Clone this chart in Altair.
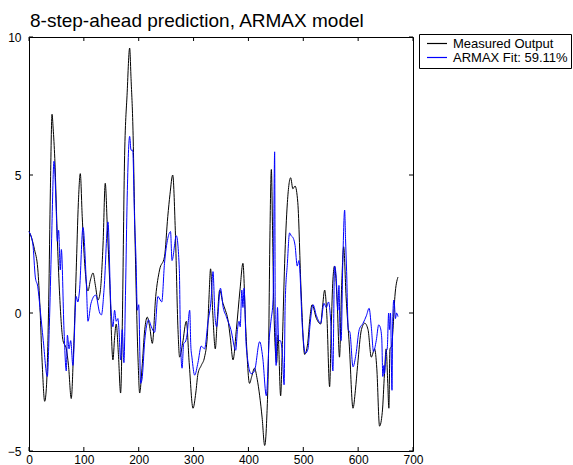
import altair as alt
import pandas as pd

# Measured output (black)
meas_x = [0, 5, 10, 16, 20, 24, 28.6, 32, 36, 39, 42, 44, 47, 52, 56, 62, 68, 72, 77, 81,
          86, 90, 93.5, 97, 101.5, 107.5, 112, 116.7, 121, 125.8, 130, 135, 139, 143, 147,
          153, 156, 159, 163, 167, 170, 174, 179, 183.5, 186, 189.6, 193, 195.6, 199, 201.7,
          206, 211, 215.6, 220, 224.8, 231, 238, 247, 253, 257, 262, 266.7, 271.6, 274.6,
          280, 286.8, 292, 299, 304, 308, 314, 320, 325, 328, 331, 335, 339.6, 343, 347.6,
          353.6, 358, 362.7, 367, 371.9, 378, 384.6, 390, 395, 402, 406, 411, 416, 420.5,
          425, 429.6, 433, 437, 439, 441.8, 444, 446, 451.5, 454, 458.7, 462, 466, 471, 477,
          481, 485, 490, 496, 502.5, 508, 512, 516, 524, 531.7, 535, 539, 543, 548, 551, 554,
          557, 562, 566, 570, 573.6, 578, 584, 590.6, 595, 599, 606, 612, 618, 624, 630, 634,
          639, 644, 648, 651, 654, 656, 658, 661, 663.5, 667, 672.6]
meas_y = [2.95, 2.7, 2.3, 1.6, 0.2, -1.8, -3.2, -2.6, 0.5, 4.5, 7.2, 6.7, 5.6, 2.5, 0.6, -1.0,
          -1.3, -1.9, -3.1, -1.5, 1.5, 4.0, 5.05, 3.5, 1.8, 0.8, 1.2, 1.45, 1.0, 0.47, 0.8, 2.5,
          4.7, 3.0, 1.2, -1.7, -0.9, -0.4, -1.5, -2.9, -0.5, 5.4, 8.0, 9.6, 8.5, 6.6, 3.0, 0.6,
          -1.8, -2.9, -2.0, -0.6, -0.15, -0.5, -1.1, 0.6, 1.56, 2.04, 3.5, 4.3, 5.0, 3.0, -0.6,
          -1.6, -1.1, -0.3, -1.8, -3.45, -2.9, -2.2, -1.9, -1.6, -0.85, 0.5, 1.6, 0.0, -1.3,
          -0.3, 0.83, 0.35, 0.1, -0.25, -0.9, -1.7, -0.6, 0.83, 1.8, -0.5, -2.55, -2.3, -2.0,
          -2.4, -3.0, -3.8, -4.8, -4.0, -1.0, 2.5, 5.2, 3.0, 0.5, -1.8, -0.8, -3.0, -1.0, 1.8,
          4.0, 4.9, 4.5, 4.6, 4.0, 0.8, -1.5, -1.1, -0.2, 0.3, -0.2, -0.4, 0.2, 0.83, -0.1,
          -2.67, -0.5, 1.2, 1.7, 0.3, -1.6, 1.0, 2.4, 0.6, -1.2, -3.45, -2.8, -1.9, -0.6, -0.37,
          -0.6, -1.6, -1.3, -2.0, -4.1, -3.6, -2.2, -1.3, -2.55, -3.45, -1.3, -1.2, -0.6, 0.6,
          1.3]

# 8-step-ahead ARMAX prediction (blue)
fit_x = [0, 7, 11.5, 16, 20, 26, 33.4, 37, 41, 45.6, 50, 51.6, 54, 57, 59, 63.8, 68, 70, 73,
         76, 80, 86, 89, 92, 98.4, 104.5, 107.5, 113, 121.5, 129, 132, 137, 144, 149, 153,
         156, 159, 162, 164, 167, 170, 173, 176, 179, 183.5, 186, 189, 192.6, 195, 197.5, 200,
         203.5, 206, 211, 218, 223, 229, 235, 242, 247, 253, 258, 260.7, 268.6, 274, 276, 279,
         282, 285, 288, 293, 295, 297, 302, 308, 314, 320, 326, 332, 335.4, 339, 342, 349,
         354, 359.7, 368, 376.8, 380, 383, 385, 388, 390, 392, 396, 405, 411, 420.5, 426,
         432.6, 438, 441, 445, 447.8, 449, 450.5, 453, 455, 458, 462, 465, 467, 471, 475, 478,
         482, 485, 489, 492, 498.6, 503.7, 508.6, 512, 517.7, 524, 531.7, 537.7, 542, 546,
         550, 554, 557, 560, 563, 565, 567, 569, 572, 575.4, 577, 579, 582, 585, 590.6, 596,
         602, 609, 615, 620, 624, 628, 633, 637.5, 640, 643, 645, 647, 648, 651, 653, 655.6,
         657, 659, 661.7, 663, 665, 666, 668, 670, 672.6]
fit_y = [2.95, 2.5, 1.3, 0.95, 0.2, -1.0, -2.3, -0.5, 2.5, 5.5, 3.5, 2.6, 3.0, 1.56, 2.3, -0.6,
         -2.1, -0.8, -1.3, -1.0, -1.9, 0.6, 0.4, 0.8, 3.1, 1.08, -0.3, 0.35, 0.65, 0.0, -0.07,
         0.9, 3.3, 0.35, -0.5, 0.1, -0.3, -0.2, -0.6, -1.7, -0.6, -1.8, 0.83, 4.2, 6.4, 5.9,
         5.9, 3.25, 2.0, 0.1, 0.3, -2.55, -2.4, -1.0, -0.25, -0.5, -0.7, 0.6, 0.4, 1.8, 2.7,
         2.95, 1.9, 2.8, 1.6, -0.8, -2.0, -1.1, -1.05, -0.8, 0.1, -1.2, -1.6, -2.25, -1.8,
         -1.2, -1.3, -0.37, 0.5, 1.5, -0.1, -0.5, 0.9, 0.2, -0.13, -0.6, -1.35, -0.6, -0.3,
         -0.5, 0.83, 0.2, 0.9, -1.2, -2.2, -2.1, -1.04, -1.6, -3.0, -0.9, -0.3, 0.5, 5.84,
         -0.7, -1.9, 0.2, -1.0, -1.0, -1.5, -2.6, 0.35, 1.8, 2.9, 2.8, 2.7, 2.45, 1.7, 1.9,
         -0.6, -1.46, -1.3, -0.5, 0.3, -0.1, -0.37, 0.35, 0.2, 0.4, -0.3, -2.1, 1.7, 1.3, 0.1,
         1.0, -0.7, -1.0, 1.8, 3.73, 2.7, 1.5, -0.6, -0.7, -1.95, -1.5, -0.6, -0.37, -0.1,
         0.17, -0.5, -1.4, -1.0, -0.43, -0.5, -0.9, -2.3, -1.9, -2.2, -1.4, -1.3, 0.0, -0.6,
         0.0, -2.8, -0.3, 0.47, 0.35, -0.2, 0.0, -0.13]

series_names = ["Measured Output", "ARMAX Fit: 59.11%"]
series_colors = ["#000000", "#0000ff"]
x_ticks = [0, 100, 200, 300, 400, 500, 600, 700]
y_ticks = [-5, 0, 5, 10]

W, H = 384, 414
FONT = "Liberation Sans"

meas = pd.DataFrame({"t": meas_x, "v": meas_y, "series": series_names[0]})
fit = pd.DataFrame({"t": fit_x, "v": fit_y, "series": series_names[1]})
xt = pd.DataFrame({"t": x_ticks})
yt = pd.DataFrame({"v": y_ticks})

xscale = alt.Scale(domain=[0, 700], nice=False, zero=False)
yscale = alt.Scale(domain=[-5, 10], nice=False, zero=False)

# legend line sample: a horizontal stroke wider than the symbol's nominal box,
# so the rows stay compact while the sample line stays long
color = alt.Color(
    "series:N",
    scale=alt.Scale(domain=series_names, range=series_colors),
    legend=alt.Legend(
        title=None, orient="none", legendX=390, legendY=-3,
        symbolType="M-2,0L2,0", symbolSize=100, symbolStrokeWidth=1.2,
        symbolOffset=8.5,
        labelFont=FONT, labelFontSize=13, labelColor="black", labelOffset=9.5,
        strokeColor="black", fillColor="white", padding=3, rowPadding=0,
        labelLimit=300,
    ),
)

xaxis = alt.Axis(values=x_ticks, title=None, ticks=False, domain=False, grid=False,
                 labelFont=FONT, labelFontSize=12, labelColor="black", labelPadding=3,
                 format="d", labelFlush=False)
yaxis = alt.Axis(values=y_ticks, title=None, ticks=False, domain=False, grid=False,
                 labelFont=FONT, labelFontSize=12, labelColor="black", labelPadding=8,
                 format="d", labelFlush=False)

measured_line = alt.Chart(meas).mark_line(strokeWidth=1, interpolate="monotone").encode(
    x=alt.X("t:Q", scale=xscale, axis=xaxis),
    y=alt.Y("v:Q", scale=yscale, axis=yaxis),
    color=color,
)
fit_line = alt.Chart(fit).mark_line(strokeWidth=1, interpolate="monotone").encode(
    x=alt.X("t:Q", scale=xscale),
    y=alt.Y("v:Q", scale=yscale),
    color=color,
)

# inward-pointing ticks on all four sides of the box
tick_style = dict(color="black", strokeWidth=1)
ticks_bottom = alt.Chart(xt).mark_rule(**tick_style).encode(
    x=alt.X("t:Q", scale=xscale), y=alt.value(H), y2=alt.value(H - 4))
ticks_top = alt.Chart(xt).mark_rule(**tick_style).encode(
    x=alt.X("t:Q", scale=xscale), y=alt.value(0), y2=alt.value(4))
ticks_left = alt.Chart(yt).mark_rule(**tick_style).encode(
    y=alt.Y("v:Q", scale=yscale), x=alt.value(0), x2=alt.value(4))
ticks_right = alt.Chart(yt).mark_rule(**tick_style).encode(
    y=alt.Y("v:Q", scale=yscale), x=alt.value(W), x2=alt.value(W - 4))

chart = alt.layer(
    measured_line, fit_line, ticks_bottom, ticks_top, ticks_left, ticks_right
).properties(
    width=W, height=H,
    title=alt.TitleParams("8-step-ahead prediction, ARMAX model", anchor="start",
                          frame="group", font=FONT, fontSize=19, fontWeight="normal",
                          color="black", offset=0, dx=1),
    autosize=alt.AutoSizeParams(type="none"),
    padding={"left": 29, "top": 37, "right": 160, "bottom": 14},
    background="white",
).configure_view(stroke="black", strokeWidth=1)

chart.save("out.html", embed_options={"renderer": "svg", "actions": False})
